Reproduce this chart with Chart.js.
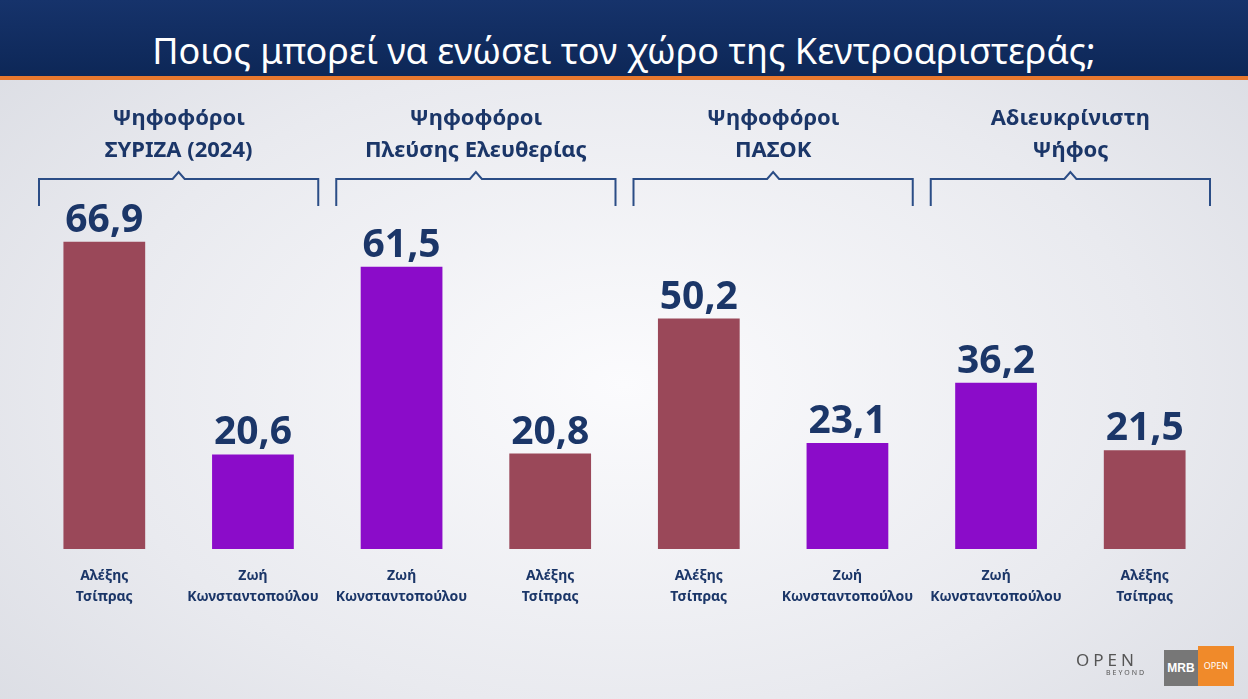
<!DOCTYPE html>
<html>
<head>
<meta charset="utf-8">
<script src="https://cdn.jsdelivr.net/npm/chart.js@4/dist/chart.umd.min.js"></script>
<style>
  body { margin: 0; width: 1248px; height: 699px; overflow: hidden; font-family: "Noto Sans", sans-serif;
         background: radial-gradient(ellipse at 50% 55%, #fbfbfd 0%, #e9eaef 60%, #d9dbe2 100%); position: relative; }
  #header { position: absolute; left: 0; top: 0; width: 1248px; height: 76px;
            background: linear-gradient(#16336b, #0d2757); border-bottom: 4px solid #e8782e; }
  #header h1 { margin: 0; color: #fff; font-weight: 400; font-size: 36px; text-align: center; height: 76px; line-height: 102px; }
  #wrap { position: absolute; left: 0; top: 0; width: 1248px; height: 699px; }
  #logo { position: absolute; left: 1076px; top: 648px; color: #555; font-size: 17px; letter-spacing: 4px; }
  #logo small { display: block; font-size: 7px; letter-spacing: 2px; margin-left: 30px; margin-top: -3px; }
  #mrb { position: absolute; left: 1164px; top: 646px; width: 72px; height: 40px; }
  #mrb .a { position: absolute; left: 0; top: 4px; width: 34px; height: 36px; background: #777; color: #fff; font: bold 12px sans-serif; line-height: 36px; text-align: center; }
  #mrb .b { position: absolute; left: 34px; top: 0; width: 36px; height: 40px; background: #f08a2a; color: #fff; font-size: 9px; line-height: 40px; text-align: center; }
</style>
</head>
<body>
<div id="header"><h1>Ποιος μπορεί να ενώσει τον χώρο της Κεντροαριστεράς;</h1></div>
<div id="wrap"><canvas id="c" width="1248" height="699"></canvas></div>
<div id="logo">OPEN<small>BEYOND</small></div>
<div id="mrb"><div class="a">MRB</div><div class="b">OPEN</div></div>
<script>
// Ομάδες ψηφοφόρων
const groups = [
  ['Ψηφοφόροι', 'ΣΥΡΙΖΑ (2024)'],
  ['Ψηφοφόροι', 'Πλεύσης Ελευθερίας'],
  ['Ψηφοφόροι', 'ΠΑΣΟΚ'],
  ['Αδιευκρίνιστη', 'Ψήφος']
];
const candidates = [
  ['Αλέξης', 'Τσίπρας'], ['Ζωή', 'Κωνσταντοπούλου'],
  ['Ζωή', 'Κωνσταντοπούλου'], ['Αλέξης', 'Τσίπρας'],
  ['Αλέξης', 'Τσίπρας'], ['Ζωή', 'Κωνσταντοπούλου'],
  ['Ζωή', 'Κωνσταντοπούλου'], ['Αλέξης', 'Τσίπρας']
];
const values = [66.9, 20.6, 61.5, 20.8, 50.2, 23.1, 36.2, 21.5];

const MAROON = '#9a4859';
const PURPLE = '#8b0cc9';
const NAVY = '#1b3668';
const barColors = candidates.map(c => c[0] === 'Αλέξης' ? MAROON : PURPLE);

const overlay = {
  id: 'overlay',
  afterDatasetsDraw(chart) {
    const ctx = chart.ctx;
    const x = chart.scales.x;
    const meta = chart.getDatasetMeta(0);
    ctx.save();
    ctx.fillStyle = NAVY;
    ctx.textAlign = 'center';
    // Τιμές πάνω από τις μπάρες
    ctx.font = 'bold 39px "Noto Sans"';
    meta.data.forEach((bar, i) => {
      ctx.fillText(values[i].toFixed(1).replace('.', ','), bar.x, bar.y - 10);
    });
    // Ονόματα κάτω από τις μπάρες
    ctx.font = 'bold 14px "Noto Sans"';
    meta.data.forEach((bar, i) => {
      ctx.fillText(candidates[i][0], bar.x, 580);
      ctx.fillText(candidates[i][1], bar.x, 601);
    });
    // Ομάδες και αγκύλες
    const step = x.getPixelForValue(1) - x.getPixelForValue(0);
    groups.forEach((g, gi) => {
      const left = x.getPixelForValue(gi * 2) - step / 2 + 9;
      const right = x.getPixelForValue(gi * 2 + 1) + step / 2 - 9;
      const mid = (left + right) / 2;
      ctx.font = 'bold 22px "Noto Sans"';
      ctx.fillText(g[0], mid, 125);
      ctx.fillText(g[1], mid, 157);
      ctx.strokeStyle = '#2b4d86';
      ctx.lineWidth = 2;
      ctx.beginPath();
      ctx.moveTo(left, 206);
      ctx.lineTo(left, 179);
      ctx.lineTo(mid - 6, 179);
      ctx.lineTo(mid, 172);
      ctx.lineTo(mid + 6, 179);
      ctx.lineTo(right, 179);
      ctx.lineTo(right, 206);
      ctx.stroke();
    });
    ctx.restore();
  }
};

new Chart(document.getElementById('c'), {
  type: 'bar',
  data: {
    labels: candidates.map(c => c.join(' ')),
    datasets: [{ data: values, backgroundColor: barColors, barPercentage: 0.55, categoryPercentage: 1 }]
  },
  options: {
    responsive: false,
    animation: false,
    layout: { padding: { left: 30, right: 29, top: 100, bottom: 150 } },
    scales: {
      x: { display: false },
      y: { display: false, min: 0, max: 97.8 }
    },
    plugins: { legend: { display: false }, tooltip: { enabled: false } }
  },
  plugins: [overlay]
});
</script>
</body>
</html>
